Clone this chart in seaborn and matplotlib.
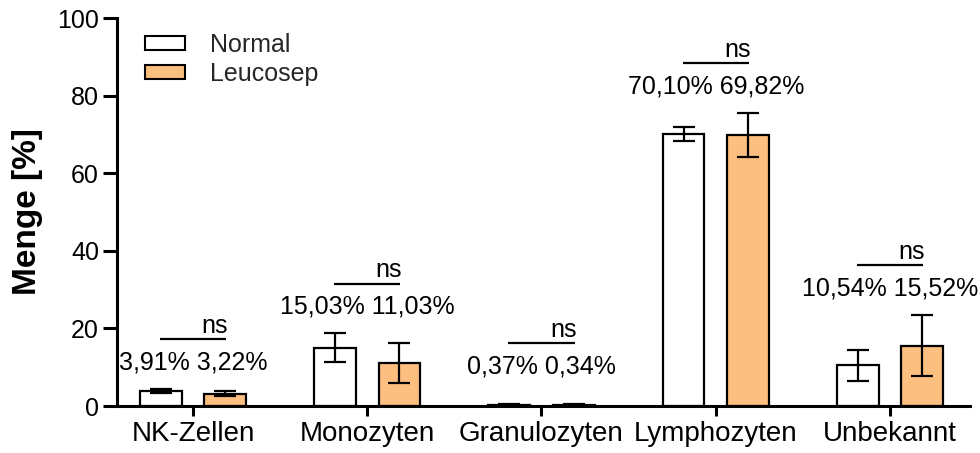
import numpy as np
import pandas as pd
import seaborn as sns
import matplotlib.pyplot as plt
from matplotlib.patches import Patch

# Cell populations and group means / standard deviations (%)
categories = ["NK-Zellen", "Monozyten", "Granulozyten", "Lymphozyten", "Unbekannt"]
groups = ["Normal", "Leucosep"]
normal_mean = [3.91, 15.03, 0.37, 70.10, 10.54]
normal_sd = [0.6, 3.7, 0.1, 1.8, 4.0]
leucosep_mean = [3.22, 11.03, 0.34, 69.82, 15.52]
leucosep_sd = [0.6, 5.2, 0.1, 5.7, 7.9]
significance = ["ns", "ns", "ns", "ns", "ns"]
yticks = [0, 20, 40, 60, 80, 100]

group_colors = {"Normal": "#FFFFFF", "Leucosep": "#FDBF7F"}

df = pd.DataFrame({
    "Zelltyp": categories * 2,
    "Gruppe": [g for g in groups for _ in categories],
    "Menge": normal_mean + leucosep_mean,
})

sns.set_theme(style="ticks")
plt.rcParams["font.family"] = ["Liberation Sans", "DejaVu Sans"]

fig = plt.figure(figsize=(9.8, 4.53), dpi=100)
ax = fig.add_axes([117 / 980, 47 / 453, (970 - 117) / 980, 388 / 453])

sns.barplot(
    data=df, x="Zelltyp", y="Menge", hue="Gruppe",
    order=categories, hue_order=groups, palette=group_colors,
    width=0.74, gap=0.35, saturation=1, edgecolor="black", linewidth=1.6,
    errorbar=None, legend=False, ax=ax,
)

# mean ± SD error bars centred on each bar
for container, means, sds in zip(ax.containers, [normal_mean, leucosep_mean],
                                 [normal_sd, leucosep_sd]):
    xs = [p.get_x() + p.get_width() / 2 for p in container]
    ax.errorbar(xs, means, yerr=sds, fmt="none", ecolor="black",
                elinewidth=1.6, capsize=8, capthick=1.6, zorder=5)


def pct(v):
    return f"{v:.2f}".replace(".", ",") + "%"


# significance brackets and value labels
for i, cat in enumerate(categories):
    top = max(normal_mean[i] + normal_sd[i], leucosep_mean[i] + leucosep_sd[i])
    line_y = max(top + 12.8, 16.2)
    ax.plot([i - 0.19, i + 0.19], [line_y, line_y], color="black", lw=1.6,
            solid_capstyle="butt")
    ax.text(i + 0.2, line_y + 0.3, significance[i], ha="right", va="bottom",
            fontsize=18, color="black")
    ax.text(i, line_y - 6, f"{pct(normal_mean[i])} {pct(leucosep_mean[i])}",
            ha="center", va="center", fontsize=18, color="black")

ax.set_ylim(0, 100)
ax.set_xlim(-0.436, 4.459)
ax.set_yticks(yticks)
ax.set_yticklabels([str(t) for t in yticks], fontsize=18)
ax.tick_params(axis="x", labelsize=20, length=7, pad=4)
ax.tick_params(axis="y", length=10, pad=3)
ax.tick_params(axis="both", width=2.2, color="black", labelcolor="black")
ax.set_xlabel("")
ax.set_ylabel("Menge [%]", fontsize=24, fontweight="bold", color="black", labelpad=10)

sns.despine(ax=ax)
for side in ["left", "bottom"]:
    ax.spines[side].set_linewidth(2.2)
    ax.spines[side].set_color("black")

handles = [Patch(facecolor=group_colors[g], edgecolor="black", linewidth=1.5) for g in groups]
ax.legend(handles, groups, loc="upper left", bbox_to_anchor=(0.015, 1.0),
          frameon=False, fontsize=18, handlelength=1.6, handleheight=0.5,
          handletextpad=1.0, labelspacing=0.2, borderaxespad=0.2)

fig.savefig("out.png", dpi=100, facecolor="white")
